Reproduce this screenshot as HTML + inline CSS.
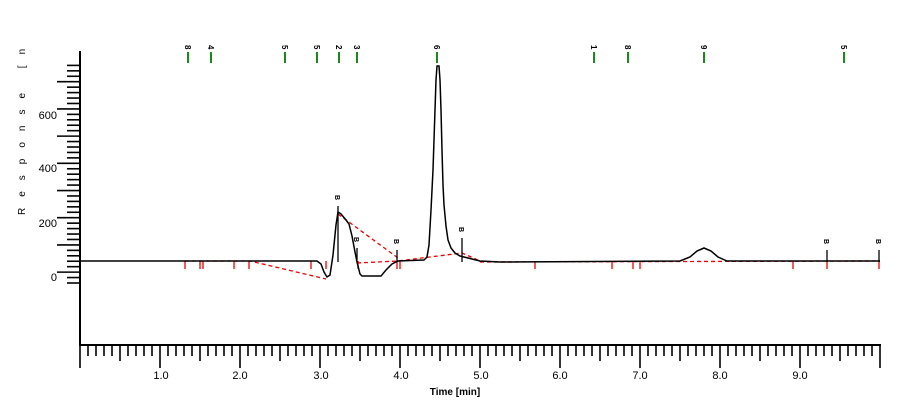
<!DOCTYPE html>
<html><head><style>
body{margin:0;background:#fff;}
svg{display:block;font-family:"Liberation Sans",sans-serif;}
</style></head><body>
<svg width="897" height="406" viewBox="0 0 897 406" xmlns="http://www.w3.org/2000/svg">
<rect width="897" height="406" fill="#fff"/>
<!-- axes -->
<line x1="80" y1="51" x2="80" y2="346" stroke="#000" stroke-width="2"/>
<line x1="80" y1="345" x2="881" y2="345" stroke="#000" stroke-width="2"/>
<g stroke="#000" stroke-width="1.6" id="yt"></g>
<g stroke="#000" stroke-width="1.6" id="xt"></g>
<g font-size="11" fill="#000" text-anchor="end">
<text x="57" y="119">600</text><text x="57" y="172">400</text><text x="57" y="227">200</text><text x="57" y="281">0</text>
</g>
<g font-size="11" fill="#000" text-anchor="middle">
<text x="161" y="379">1.0</text><text x="240" y="379">2.0</text><text x="321" y="379">3.0</text><text x="401" y="379">4.0</text><text x="481" y="379">5.0</text><text x="560" y="379">6.0</text><text x="640" y="379">7.0</text><text x="720" y="379">8.0</text><text x="800" y="379">9.0</text>
</g>
<text x="455" y="395" font-size="10" font-weight="bold" text-anchor="middle">Time [min]</text>
<text transform="translate(25,215) rotate(-90)" font-size="10" letter-spacing="11">Response [n</text>
<!-- green markers -->
<g stroke="#1a8a1a" stroke-width="2" id="gm"></g>
<g font-size="8" font-weight="bold" id="gl"></g>
<!-- red baseline -->
<g stroke="#e00" stroke-width="1.3" fill="none" stroke-dasharray="4,3">
<path d="M185 261 L250 261 L326 279"/>
<path d="M338 214 L398 258"/>
<path d="M357 263 L398 261 L462 253 L480 261"/>
<path d="M480 262 L880 261"/>
</g>
<g stroke="#e00" stroke-width="1.3" id="rt"></g>
<!-- signal -->
<path d="M80 261 L317 261 L321 264 L324 272 L327 277 L330 275 L333 255 L336 225 L338 212 L341 214 L346 220 L349 224 L352 236 L355 252 L357 262 L360 274 L362 276 L381 276 L386 270 L392 264 L398 261 L424 260 L427 257 L429 245 L431 210 L433 170 L435 110 L436 80 L437 66 L439 66 L440 80 L441 110 L442 150 L443 185 L444 205 L446 226 L448 240 L451 248 L455 253 L460 256 L468 258 L480 261 L500 262 L680 261 L690 257 L697 251 L704 248 L711 251 L718 257 L727 261 L880 261" fill="none" stroke="#000" stroke-width="1.5"/>
<g stroke="#000" stroke-width="1.3" id="bt"></g>
<g font-size="7" font-weight="bold" id="bl"></g>
<script>
var ns="http://www.w3.org/2000/svg";
function L(g,x1,y1,x2,y2){var l=document.createElementNS(ns,"line");l.setAttribute("x1",x1);l.setAttribute("y1",y1);l.setAttribute("x2",x2);l.setAttribute("y2",y2);document.getElementById(g).appendChild(l);}
function T(g,x,y,s){var t=document.createElementNS(ns,"text");t.setAttribute("transform","translate("+x+","+y+") rotate(90)");t.textContent=s;document.getElementById(g).appendChild(t);}
for(var i=0;i<=40;i++){var y=283-i*5.44;var big=(i%5==2);L("yt",big?57:67,y,80,y);}
for(var i=0;i<=100;i++){var x=80+i*8.0;L("xt",x,345,x,i%10==0?368:(i%5==0?361:356));}
[188,211,285,317,339,357,437,594,628,704,844].forEach(function(x,i){L("gm",x,52,x,63);T("gl",x-3,45-0,["8","4","5","5","2","3","6","1","8","9","5"][i]);});
[185,200,203,234,249,311,326,358,397,400,535,612,633,640,793,827,879].forEach(function(x){L("rt",x,261,x,269);});
[[338,206],[357,248],[397,250],[462,238],[827,250],[879,250]].forEach(function(p){L("bt",p[0],p[1],p[0],262);T("bl",p[0]-3,p[1]-11,"B");});
</script>
</svg>
</body></html>
